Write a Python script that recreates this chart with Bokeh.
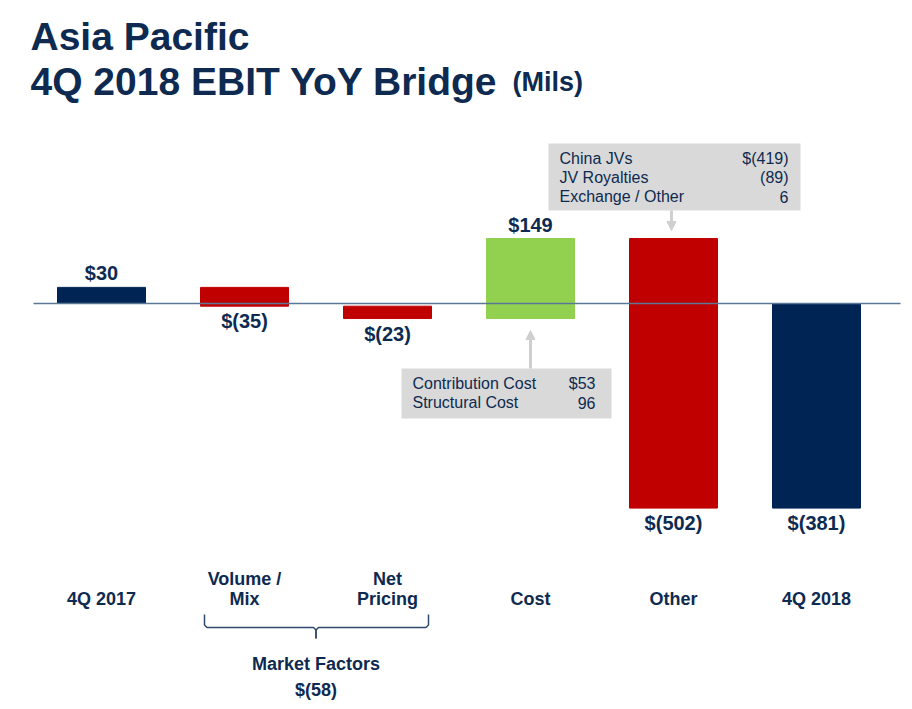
from bokeh.plotting import figure
from bokeh.models import Range1d, Arrow, NormalHead, ColumnDataSource
from bokeh.embed import file_html
from bokeh.resources import INLINE
from bokeh.core.properties import value

# ---------------- data ----------------
categories = ["4Q 2017", "Volume / Mix", "Net Pricing", "Cost", "Other", "4Q 2018"]
cat_lines = [["4Q 2017"], ["Volume /", "Mix"], ["Net", "Pricing"], ["Cost"], ["Other"], ["4Q 2018"]]
changes = [30, -35, -23, 149, -502, -381]
is_total = [True, False, False, False, False, True]
value_labels = ["$30", "$(35)", "$(23)", "$149", "$(502)", "$(381)"]
group_label = "Market Factors"
group_value = "$(58)"
cost_items = ["Contribution Cost", "Structural Cost"]
cost_values = ["$53", "96"]
other_items = ["China JVs", "JV Royalties", "Exchange / Other"]
other_values = ["$(419)", "(89)", "6"]

NAVY = "#002554"
RED = "#c00000"
GREEN = "#92d050"
TXT = "#0e2a50"
GRAY = "#d9d9d9"

# ---------------- geometry ----------------
W, H = 904, 700
OFF = 0
K = 0.537          # px per $M
STEP = 143.0       # px per category
X0 = -(101.0 - OFF) / STEP
X1 = X0 + W / STEP
Y1 = (303.0 - OFF) / K
Y0 = Y1 - H / K

def px(xp):   # page pixel x -> data x
    return X0 + (xp - OFF) / STEP

def py(yp):   # page pixel y -> data y
    return Y1 - (yp - OFF) / K

p = figure(width=W, height=H, output_backend="svg", toolbar_location=None,
           x_range=Range1d(X0, X1), y_range=Range1d(Y0, Y1),
           min_border=0, outline_line_color=None)
p.axis.visible = False
p.grid.visible = False
p.background_fill_color = "white"
p.border_fill_color = "white"

# ---------------- waterfall bars ----------------
xs, bottoms, tops, colors = [], [], [], []
running = 0
for i, (c, tot) in enumerate(zip(changes, is_total)):
    if tot:
        b, t = 0, c
        running = c
        col = NAVY
    else:
        b, t = running, running + c
        running += c
        col = GREEN if c > 0 else RED
    xs.append(i)
    bottoms.append(min(b, t))
    tops.append(max(b, t))
    colors.append(col)

BW = 88.0 / STEP
src = ColumnDataSource(dict(left=[x - BW / 2 for x in xs], right=[x + BW / 2 for x in xs],
                            bottom=bottoms, top=tops, color=colors))
p.quad(left="left", right="right", bottom="bottom", top="top", fill_color="color",
       line_color="color", source=src)

# zero line
p.segment(x0=[px(33)], x1=[px(900)], y0=[0], y1=[0], line_color="#5a7896", line_width=1.6)

# value labels
for i, c in enumerate(changes):
    if c >= 0:
        p.text(x=[i], y=[tops[i]], text=[value_labels[i]], text_align="center",
               text_baseline="bottom", y_offset=-3, text_font=value("Liberation Sans"),
               text_font_style="bold", text_font_size="20px", text_color=TXT)
    else:
        p.text(x=[i], y=[bottoms[i]], text=[value_labels[i]], text_align="center",
               text_baseline="top", y_offset=4, text_font=value("Liberation Sans"),
               text_font_style="bold", text_font_size="20px", text_color=TXT)

# category labels
for i, lines in enumerate(cat_lines):
    n = len(lines)
    for j, ln in enumerate(lines):
        yp = 598 - (n - 1 - j) * 20
        p.text(x=[i], y=[py(yp)], text=[ln], text_align="center", text_baseline="middle",
               text_font=value("Liberation Sans"), text_font_style="bold",
               text_font_size="18px", text_color=TXT)

# bracket under Volume/Mix and Net Pricing
bl = 1 - (244 - 204) / STEP
br = 2 + (428 - 387) / STEP
bc = 1.5
d = 2.5 / STEP
bx_left = [bl, bl, bl + d, bc - d, bc, bc]
bx_right = [br, br, br - d, bc + d, bc, bc]
by = [py(614), py(624.5), py(627), py(627), py(629.5), py(638)]
p.line(bx_left, by, line_color="#2f4a6d", line_width=1.5)
p.line(bx_right, by, line_color="#2f4a6d", line_width=1.5)
p.text(x=[bc], y=[py(663)], text=[group_label], text_align="center", text_baseline="middle",
       text_font=value("Liberation Sans"), text_font_style="bold", text_font_size="18px",
       text_color=TXT)
p.text(x=[bc], y=[py(689)], text=[group_value], text_align="center", text_baseline="middle",
       text_font=value("Liberation Sans"), text_font_style="bold", text_font_size="18px",
       text_color=TXT)

# callout: Other
oi = 4
p.quad(left=[px(548)], right=[px(800)], top=[py(143)], bottom=[py(210)],
       fill_color=GRAY, line_color=None)
for j, (a, b) in enumerate(zip(other_items, other_values)):
    yy = py(158 + j * 19)
    p.text(x=[px(559)], y=[yy], text=[a], text_align="left", text_baseline="middle",
           text_font=value("Liberation Sans"), text_font_size="16px", text_color=TXT)
    p.text(x=[px(788)], y=[yy], text=[b], text_align="right", text_baseline="middle",
           text_font=value("Liberation Sans"), text_font_size="16px", text_color=TXT)
p.add_layout(Arrow(x_start=oi - 2 / STEP, y_start=py(210), x_end=oi - 2 / STEP,
                   y_end=tops[oi] + 8 / K,
                   line_color="#cfcfcf", line_width=3,
                   end=NormalHead(size=9, fill_color="#cfcfcf", line_color="#cfcfcf")))

# callout: Cost
ci = 3
p.quad(left=[px(401)], right=[px(611)], top=[py(368)], bottom=[py(418)],
       fill_color=GRAY, line_color=None)
for j, (a, b) in enumerate(zip(cost_items, cost_values)):
    yy = py(383 + j * 19)
    p.text(x=[px(412)], y=[yy], text=[a], text_align="left", text_baseline="middle",
           text_font=value("Liberation Sans"), text_font_size="16px", text_color=TXT)
    p.text(x=[px(595)], y=[yy], text=[b], text_align="right", text_baseline="middle",
           text_font=value("Liberation Sans"), text_font_size="16px", text_color=TXT)
p.add_layout(Arrow(x_start=ci, y_start=py(368), x_end=ci, y_end=bottoms[ci] - 12 / K,
                   line_color="#cfcfcf", line_width=3,
                   end=NormalHead(size=9, fill_color="#cfcfcf", line_color="#cfcfcf")))

# titles
p.text(x=[px(30)], y=[py(36)], text=["Asia Pacific"], text_align="left",
       text_baseline="alphabetic", text_font=value("Liberation Sans"),
       text_font_style="bold", text_font_size="39px", text_color=TXT)
p.text(x=[px(30)], y=[py(81)], text=["4Q 2018 EBIT YoY Bridge"], text_align="left",
       text_baseline="alphabetic", text_font=value("Liberation Sans"),
       text_font_style="bold", text_font_size="39px", text_color=TXT)
p.text(x=[px(512)], y=[py(81)], text=["(Mils)"], text_align="left",
       text_baseline="alphabetic", text_font=value("Liberation Sans"),
       text_font_style="bold", text_font_size="27px", text_color=TXT)

open("out.html", "w").write(file_html(p, INLINE))
